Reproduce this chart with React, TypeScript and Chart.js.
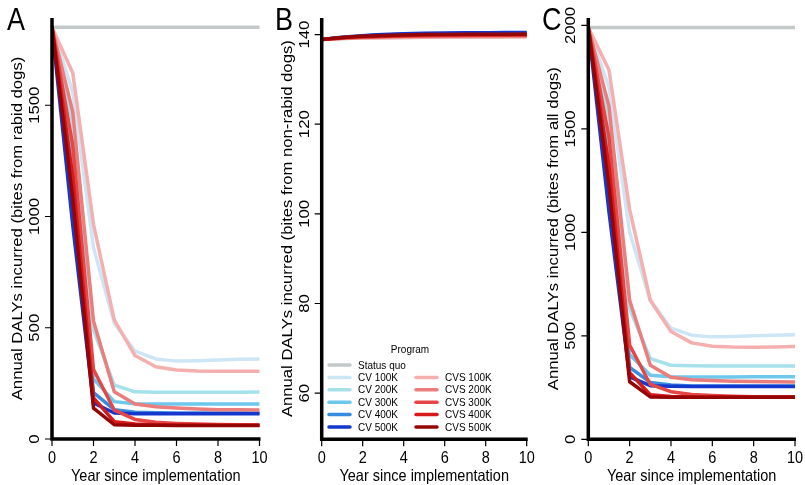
import React, { useEffect, useRef } from "react";
import { Chart, registerables } from "chart.js";
Chart.register(...registerables);

// ---------- shared ----------
const years = [0, 1, 2, 3, 4, 5, 6, 7, 8, 9, 10];
const xTicks = [0, 2, 4, 6, 8, 10];
const programs = [
  "Status quo",
  "CV 100K", "CV 200K", "CV 300K", "CV 400K", "CV 500K",
  "CVS 100K", "CVS 200K", "CVS 300K", "CVS 400K", "CVS 500K",
];
const programColors = [
  "#c3c8c8",
  "#cde6f5", "#a5e1eb", "#6ec8eb", "#378ce1", "#1437cd",
  "#f5afaf", "#eb7d7d", "#e64646", "#d71919", "#960505",
];

// ---------- Panel A: bites from rabid dogs ----------
const aStatusQuo = [1850, 1850, 1850, 1850, 1850, 1850, 1850, 1850, 1850, 1850, 1850];
const aCV100 = [1850, 1560, 860, 520, 395, 360, 350, 352, 355, 358, 360];
const aCV200 = [1850, 1420, 490, 242, 212, 210, 210, 210, 210, 210, 211];
const aCV300 = [1850, 1280, 270, 168, 158, 157, 157, 157, 157, 157, 157];
const aCV400 = [1850, 1120, 208, 132, 120, 118, 117, 117, 117, 117, 117];
const aCV500 = [1850, 960, 162, 117, 114, 113, 113, 113, 113, 113, 113];
const aCVS100 = [1850, 1645, 965, 535, 375, 325, 310, 306, 305, 305, 305];
const aCVS200 = [1850, 1470, 530, 212, 157, 145, 139, 135, 132, 131, 130];
const aCVS300 = [1850, 1320, 312, 130, 88, 75, 70, 67, 65, 64, 63];
const aCVS400 = [1850, 1180, 185, 78, 67, 64, 63, 63, 62, 62, 62];
const aCVS500 = [1850, 1080, 139, 64, 62, 62, 61, 61, 61, 61, 61];
const aYTicks = [0, 500, 1000, 1500];

// ---------- Panel B: bites from non-rabid dogs ----------
const bStatusQuo = [138.9, 139.1, 139.22, 139.3, 139.36, 139.4, 139.43, 139.46, 139.48, 139.49, 139.5];
const bCV100 = [138.9, 139.15, 139.35, 139.48, 139.57, 139.63, 139.67, 139.7, 139.72, 139.74, 139.75];
const bCV200 = [138.9, 139.25, 139.5, 139.67, 139.78, 139.86, 139.92, 139.95, 139.97, 139.99, 140.0];
const bCV300 = [138.9, 139.3, 139.6, 139.8, 139.94, 140.03, 140.08, 140.11, 140.13, 140.14, 140.15];
const bCV400 = [138.9, 139.35, 139.68, 139.9, 140.05, 140.15, 140.21, 140.25, 140.27, 140.29, 140.3];
const bCV500 = [138.9, 139.4, 139.75, 140.0, 140.17, 140.28, 140.35, 140.4, 140.42, 140.44, 140.45];
const bCVS100 = [138.9, 139.1, 139.22, 139.3, 139.36, 139.4, 139.43, 139.46, 139.48, 139.49, 139.5];
const bCVS200 = [138.9, 139.18, 139.36, 139.47, 139.55, 139.6, 139.64, 139.66, 139.68, 139.69, 139.7];
const bCVS300 = [138.9, 139.24, 139.46, 139.6, 139.69, 139.75, 139.79, 139.81, 139.83, 139.84, 139.85];
const bCVS400 = [138.9, 139.3, 139.55, 139.71, 139.82, 139.89, 139.94, 139.96, 139.98, 139.99, 140.0];
const bCVS500 = [138.9, 139.35, 139.63, 139.81, 139.93, 140.0, 140.04, 140.07, 140.08, 140.09, 140.1];
const bYTicks = [60, 80, 100, 120, 140];

// ---------- Panel C: bites from all dogs ----------
const cStatusQuo = [1990, 1990, 1990, 1990, 1990, 1990, 1990, 1990, 1990, 1990, 1990];
const cCV100 = [1990, 1700, 1000, 670, 537, 503, 495, 497, 500, 503, 505];
const cCV200 = [1990, 1560, 630, 390, 358, 355, 354, 354, 354, 354, 354];
const cCV300 = [1990, 1420, 410, 310, 302, 301, 301, 301, 302, 302, 302];
const cCV400 = [1990, 1260, 348, 275, 262, 258, 257, 257, 257, 257, 257];
const cCV500 = [1990, 1100, 302, 259, 256, 255, 255, 255, 255, 255, 255];
const cCVS100 = [1990, 1785, 1110, 672, 521, 466, 450, 446, 445, 446, 448];
const cCVS200 = [1990, 1610, 672, 358, 300, 288, 284, 281, 279, 278, 277];
const cCVS300 = [1990, 1460, 456, 265, 230, 217, 212, 208, 206, 205, 205];
const cCVS400 = [1990, 1320, 322, 215, 207, 205, 204, 204, 204, 204, 204];
const cCVS500 = [1990, 1220, 278, 205, 203, 203, 203, 203, 203, 203, 203];
const cYTicks = [0, 500, 1000, 1500, 2000];

const FONT = "'Liberation Sans', Arial, Helvetica, sans-serif";
const STRETCH = 1.15; // reference text is slightly taller than wide

type PanelCfg = {
  letter: string;
  series: number[][];
  yMin: number;
  yMax: number;
  yTicks: number[];
  yTitle: string;
  padding: { left: number; right: number; top: number; bottom: number };
  width: number;
  left: number;
  smooth: boolean;
  legend: boolean;
};

const panels: PanelCfg[] = [
  {
    letter: "A",
    series: [aStatusQuo, aCV100, aCV200, aCV300, aCV400, aCV500, aCVS100, aCVS200, aCVS300, aCVS400, aCVS500],
    yMin: 0, yMax: 1892, yTicks: aYTicks,
    yTitle: "Annual DALYs incurred (bites from rabid dogs)",
    padding: { left: 52, right: 8.5, top: 18, bottom: 46 },
    width: 268, left: 0, smooth: false, legend: false,
  },
  {
    letter: "B",
    series: [bStatusQuo, bCV100, bCV200, bCV300, bCV400, bCV500, bCVS100, bCVS200, bCVS300, bCVS400, bCVS500],
    yMin: 49.7, yMax: 143.7, yTicks: bYTicks,
    yTitle: "Annual DALYs incurred (bites from non-rabid dogs)",
    padding: { left: 53.7, right: 8.3, top: 18, bottom: 45.7 },
    width: 267, left: 268, smooth: true, legend: true,
  },
  {
    letter: "C",
    series: [cStatusQuo, cCV100, cCV200, cCV300, cCV400, cCV500, cCVS100, cCVS200, cCVS300, cCVS400, cCVS500],
    yMin: 0, yMax: 2036, yTicks: cYTicks,
    yTitle: "Annual DALYs incurred (bites from all dogs)",
    padding: { left: 53.3, right: 10, top: 18, bottom: 45.7 },
    width: 270, left: 535, smooth: false, legend: false,
  },
];

function drawText(ctx: CanvasRenderingContext2D, text: string, x: number, y: number, rotated: boolean) {
  ctx.save();
  ctx.translate(x, y);
  ctx.scale(1, STRETCH);
  if (rotated) ctx.rotate(-Math.PI / 2);
  ctx.fillText(text, 0, 0);
  ctx.restore();
}

function makeAxesPlugin(cfg: PanelCfg) {
  return {
    id: "rAxes" + cfg.letter,
    afterDatasetsDraw(chart: any) {
      const ctx = chart.ctx as CanvasRenderingContext2D;
      const area = chart.chartArea;
      const xs = chart.scales.x;
      const ys = chart.scales.y;
      ctx.save();
      // L-shaped box
      ctx.strokeStyle = "#000";
      ctx.lineWidth = 3.5;
      ctx.lineJoin = "miter";
      ctx.lineCap = "butt";
      ctx.beginPath();
      ctx.moveTo(area.left, area.top);
      ctx.lineTo(area.left, area.bottom);
      ctx.lineTo(area.right + 1, area.bottom);
      ctx.stroke();
      // ticks
      ctx.lineWidth = 1.2;
      ctx.beginPath();
      xTicks.forEach((t) => {
        const px = xs.getPixelForValue(t);
        ctx.moveTo(px, area.bottom);
        ctx.lineTo(px, area.bottom + 7);
      });
      cfg.yTicks.forEach((t) => {
        const py = ys.getPixelForValue(t);
        ctx.moveTo(area.left, py);
        ctx.lineTo(area.left - 7, py);
      });
      ctx.stroke();
      // tick labels
      ctx.fillStyle = "#000";
      ctx.font = `14.5px ${FONT}`;
      ctx.textAlign = "center";
      ctx.textBaseline = "middle";
      xTicks.forEach((t) => {
        drawText(ctx, String(t), xs.getPixelForValue(t), area.bottom + 19, false);
      });
      cfg.yTicks.forEach((t) => {
        drawText(ctx, String(t), area.left - 17, ys.getPixelForValue(t), true);
      });
      // axis titles
      drawText(ctx, "Year since implementation", (area.left + area.right) / 2, area.bottom + 37, false);
      drawText(ctx, cfg.yTitle, area.left - 34, (area.top + area.bottom) / 2, true);
      // panel letter
      ctx.font = `27px ${FONT}`;
      ctx.textAlign = "left";
      ctx.textBaseline = "alphabetic";
      drawText(ctx, cfg.letter, 7, 30, false);
      // legend
      if (cfg.legend) {
        ctx.font = `10px ${FONT}`;
        ctx.textAlign = "center";
        ctx.textBaseline = "middle";
        drawText(ctx, "Program", 142, 350, false);
        ctx.textAlign = "left";
        const rowY = (i: number) => 365 + i * 12.4;
        const drawItem = (idx: number, col: number, row: number) => {
          const x0 = col === 0 ? 61 : 148;
          ctx.strokeStyle = programColors[idx];
          ctx.lineWidth = 3.5;
          ctx.lineCap = "round";
          ctx.beginPath();
          ctx.moveTo(x0, rowY(row));
          ctx.lineTo(x0 + 21, rowY(row));
          ctx.stroke();
          ctx.fillStyle = "#000";
          drawText(ctx, programs[idx], x0 + 29, rowY(row) + 0.5, false);
        };
        drawItem(0, 0, 0);
        for (let i = 1; i <= 5; i++) drawItem(i, 0, i);
        for (let i = 6; i <= 10; i++) drawItem(i, 1, i - 5);
      }
      ctx.restore();
    },
  };
}

function Panel({ cfg }: { cfg: PanelCfg }) {
  const ref = useRef<HTMLCanvasElement | null>(null);
  useEffect(() => {
    if (!ref.current) return;
    const datasets = cfg.series
      .map((s, i) => ({
        label: programs[i],
        data: years.map((y, k) => ({ x: y, y: s[k] })),
        borderColor: programColors[i],
        backgroundColor: programColors[i],
        borderWidth: 3.5,
        pointRadius: 0,
        fill: false,
        cubicInterpolationMode: cfg.smooth ? ("monotone" as const) : ("default" as const),
        tension: 0,
        borderJoinStyle: "round" as const,
        borderCapStyle: "round" as const,
      }))
      .reverse(); // first dataset is drawn on top in Chart.js
    const chart = new Chart(ref.current, {
      type: "line",
      data: { datasets },
      options: {
        animation: false,
        responsive: false,
        devicePixelRatio: 1,
        layout: { padding: cfg.padding },
        plugins: { legend: { display: false }, tooltip: { enabled: false } },
        scales: {
          x: { type: "linear", min: 0, max: 10, display: false },
          y: { type: "linear", min: cfg.yMin, max: cfg.yMax, display: false },
        },
      },
      plugins: [makeAxesPlugin(cfg)],
    });
    return () => chart.destroy();
  }, [cfg]);
  return (
    <canvas
      ref={ref}
      width={cfg.width}
      height={485}
      style={{ position: "absolute", left: cfg.left, top: 0, width: cfg.width, height: 485 }}
    />
  );
}

export default function App() {
  return (
    <div style={{ position: "fixed", left: 0, top: 0, width: 805, height: 485, background: "#fff" }}>
      {panels.map((p) => (
        <Panel key={p.letter} cfg={p} />
      ))}
    </div>
  );
}
